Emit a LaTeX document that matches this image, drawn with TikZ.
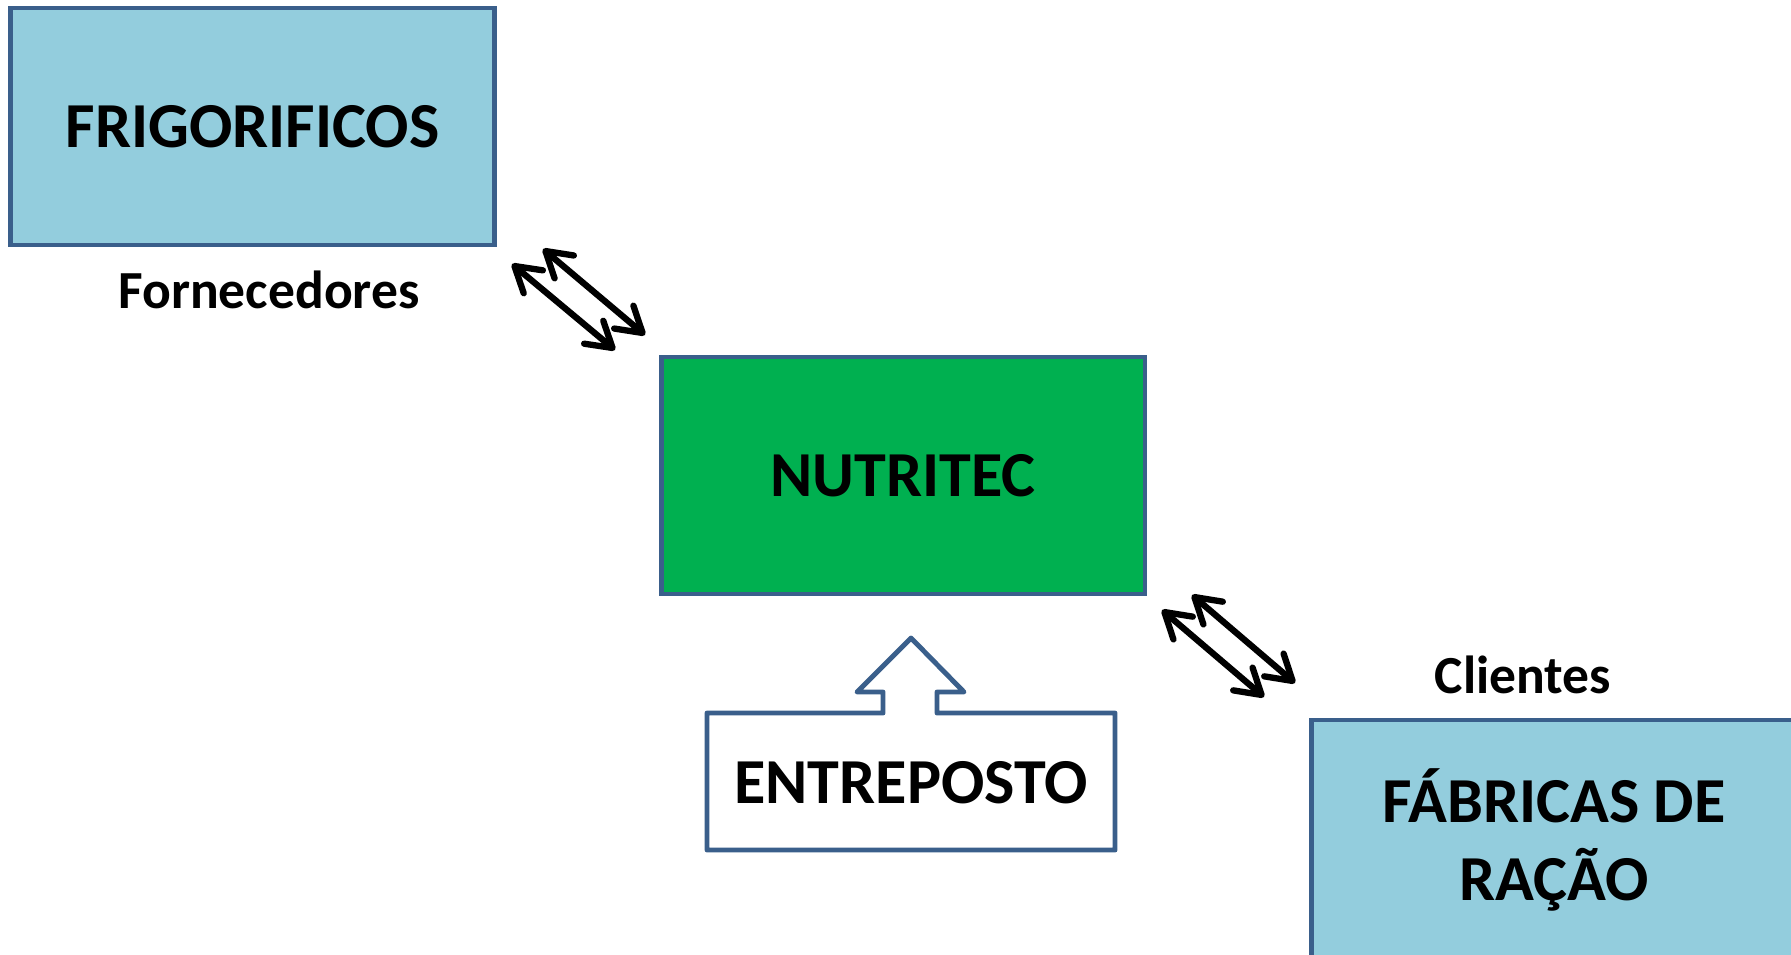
\documentclass[tikz,border=0pt]{standalone}
\usepackage{fontspec}
\setmainfont{Carlito}
\usetikzlibrary{arrows.meta}

\definecolor{boxblue}{HTML}{93CDDD}
\definecolor{boxgreen}{HTML}{00B050}
\definecolor{edgeblue}{HTML}{3A5F8B}

\tikzset{
  box/.style={draw=edgeblue, line width=2.8pt, inner sep=0pt, align=center,
    font=\bfseries\fontsize{36.5}{44}\selectfont},
  tag/.style={font=\bfseries\fontsize{30.5}{36}\selectfont},
  dbl/.style={line width=3.6pt, line cap=round,
    {Straight Barb[length=14pt, width=17pt, round]}-{Straight Barb[length=14pt, width=17pt, round]}}
}

\begin{document}
\begin{tikzpicture}[x=0.02cm, y=-0.02cm]
            \useasboundingbox (0,0) rectangle (1791,954);

            % Suppliers box
            \node[box, fill=boxblue, minimum width=9.7cm, minimum height=4.74cm] (frig) at (252.5,126.5) {FRIGORIFICOS};
            \node[tag] (forn) at (269,290) {Fornecedores};

            % Company in the middle
            \node[box, fill=boxgreen, minimum width=9.68cm, minimum height=4.74cm] (nutri) at (903,475.5) {NUTRITEC};

            % Customers box, cut by the page edge
            \node[box, fill=boxblue, minimum width=9.72cm, minimum height=4.8cm] (fabr) at (1554,840) {FÁBRICAS DE\\RAÇÃO};
            \node[tag] (cli) at (1523,675) {Clientes};

            % Warehouse callout with arrow up
            \draw[draw=edgeblue, line width=2.8pt, line join=round, fill=white]
              (707,713) -- (883,713) -- (883,692) -- (857,692) -- (911,638)
              -- (964,692) -- (937,692) -- (937,713) -- (1115,713)
              -- (1115,850) -- (707,850) -- cycle;
            \node[font=\bfseries\fontsize{36.5}{44}\selectfont] (entre) at (911,783) {ENTREPOSTO};

            % Arrow ends between the boxes
            \coordinate (a1) at (512,264);
            \coordinate (a2) at (615,350);
            \coordinate (b1) at (543,249);
            \coordinate (b2) at (645,335);
            \coordinate (c1) at (1162,610);
            \coordinate (c2) at (1264,697);
            \coordinate (d1) at (1192,595);
            \coordinate (d2) at (1295,683);

            % Double arrows
            \draw[dbl] (a1) -- (a2);
            \draw[dbl] (b1) -- (b2);
            \draw[dbl] (c1) -- (c2);
            \draw[dbl] (d1) -- (d2);
\end{tikzpicture}
\end{document}
